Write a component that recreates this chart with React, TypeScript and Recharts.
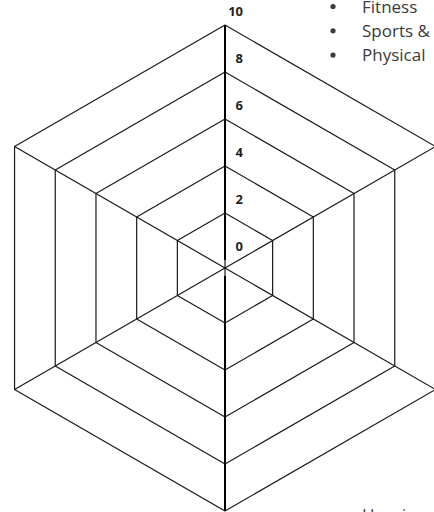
import { RadarChart, Radar, PolarGrid, PolarAngleAxis, PolarRadiusAxis } from 'recharts';

// six spokes, no series values are visible in the picture
const CATEGORIES = ['c1', 'c2', 'c3', 'c4', 'c5', 'c6'];
const SCORES: Array<number | null> = [null, null, null, null, null, null];
const RADIUS_TICKS = [0, 2, 4, 6, 8, 10];
const GRID_VALUES = [2, 4, 6, 8, 10];
const NOTE_LINES = ['Fitness', 'Sports &', 'Physical'];
const BOTTOM_NOTE = 'Heavi';

const R_MIN = -0.34;
const R_MAX = 10;
const OUTER_R = 243;
const radiusOf = (v: number) => (OUTER_R * (v - R_MIN)) / (R_MAX - R_MIN);

const data = CATEGORIES.map((c, i) => ({ axis: c, value: SCORES[i] }));

const font = '"Open Sans", "Noto Sans", sans-serif';

const RadiusTick = ({ x, y, payload }: any) => (
  <text
    x={x + 18}
    y={y - 14}
    textAnchor="end"
    dominantBaseline="central"
    fontFamily={font}
    fontWeight={700}
    fontSize={13}
    fill="#1f1f1f"
  >
    {payload.value}
  </text>
);

export default function App() {
  return (
    <div style={{ position: 'absolute', left: 0, top: 0, width: 434, height: 512, overflow: 'hidden', background: '#fff' }}>
      <RadarChart
        width={434}
        height={512}
        data={data}
        cx={225}
        cy={268}
        outerRadius={OUTER_R}
        margin={{ top: 0, right: 0, bottom: 0, left: 0 }}
      >
        <PolarGrid
          gridType="polygon"
          polarRadius={GRID_VALUES.map(radiusOf)}
          stroke="#1a1a1a"
          strokeWidth={1.2}
          strokeLinejoin="round"
        />
        <PolarAngleAxis dataKey="axis" tick={false} axisLine={false} tickLine={false} />
        <PolarRadiusAxis
          angle={90}
          type="number"
          domain={[R_MIN, R_MAX]}
          allowDataOverflow
          ticks={RADIUS_TICKS}
          tick={<RadiusTick />}
          axisLine={{ stroke: '#000', strokeWidth: 2 }}
        />
        <PolarRadiusAxis
          radiusAxisId="down"
          angle={-90}
          type="number"
          domain={[R_MIN, R_MAX]}
          allowDataOverflow
          tick={false}
          axisLine={{ stroke: '#000', strokeWidth: 2 }}
        />
        <Radar dataKey="value" stroke="none" fill="none" isAnimationActive={false} />
        <Radar dataKey="value" radiusAxisId="down" stroke="none" fill="none" isAnimationActive={false} />
      </RadarChart>
      <svg width={434} height={512} style={{ position: 'absolute', left: 0, top: 0, pointerEvents: 'none' }}>
        {NOTE_LINES.map((t, i) => (
          <g key={t} fontFamily={font} fontSize={17} fill="#3a3a3a">
            <circle cx={333} cy={6.5 + i * 24.3} r={2.6} fill="#3a3a3a" />
            <text x={362} y={12.5 + i * 24.3}>{t}</text>
          </g>
        ))}
        <text x={362} y={521} fontFamily={font} fontSize={17} fill="#3a3a3a">
          {BOTTOM_NOTE}
        </text>
      </svg>
    </div>
  );
}
